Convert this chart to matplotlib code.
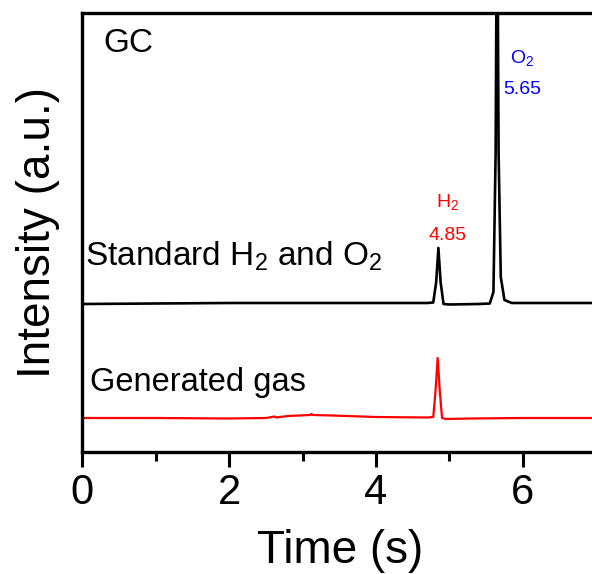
import numpy as np
import matplotlib
matplotlib.use("Agg")
import matplotlib.pyplot as plt
from matplotlib.ticker import MultipleLocator

plt.rcParams['font.family'] = ['Liberation Sans', 'DejaVu Sans']
plt.rcParams['mathtext.fontset'] = 'custom'
plt.rcParams['mathtext.rm'] = 'Liberation Sans'
plt.rcParams['mathtext.it'] = 'Liberation Sans'

# standard H2 / O2 trace
t_std = [0, 1, 2, 3, 4, 4.7, 4.78, 4.82, 4.85, 4.88, 4.92, 5.0, 5.4, 5.55,
         5.6, 5.63, 5.65, 5.67, 5.70, 5.75, 5.85, 6.2, 7.4]
i_std = [148, 148.5, 149, 149, 149, 149, 149.5, 170, 204, 170, 148, 147.5, 148, 148.5,
         160, 300, 600, 300, 175, 152, 149, 149, 149]

# generated gas trace
t_gen = [0, 1, 2, 2.5, 2.62, 2.64, 2.8, 3.1, 3.12, 3.14, 3.4, 4, 4.7, 4.78,
         4.81, 4.84, 4.87, 4.9, 4.95, 5.3, 6, 7.4]
i_gen = [34, 34, 33.5, 34, 35.5, 34.5, 36, 37, 38, 37, 36.5, 35, 34.5, 35,
         60, 94, 60, 34, 33, 33.5, 34, 34]

xticks = [0, 2, 4, 6]

fig = plt.figure(figsize=(5.92, 5.74), dpi=100)
ax = fig.add_axes([82.4/592, 122/574, 7.3*73.4/592, 439/574])

ax.plot(t_std, i_std, color='black', lw=1.9)
ax.plot(t_gen, i_gen, color='red', lw=1.6)

ax.set_xlim(0, 7.3)
ax.set_ylim(0, 439)
ax.set_xticks(xticks)
ax.xaxis.set_minor_locator(MultipleLocator(1))
ax.set_yticks([])
ax.tick_params(axis='x', which='major', direction='out', length=11, width=2.2,
               labelsize=30, pad=4)
ax.tick_params(axis='x', which='minor', direction='out', length=6.5, width=2.2)
for s in ax.spines.values():
    s.set_linewidth(2.4)

ax.set_xlabel('Time (s)', fontsize=33)
ax.xaxis.set_label_coords(0.481, -0.175)
ax.set_ylabel('Intensity (a.u.)', fontsize=33, labelpad=16)

ax.text(0.29, 408, 'GC', fontsize=24, va='center', ha='left')
ax.text(0.03, 196, 'Standard H$_2$ and O$_2$', fontsize=24, va='center', ha='left')
ax.text(0.10, 70, 'Generated gas', fontsize=23.5, va='center', ha='left')

ax.text(4.98, 250, 'H$_2$', fontsize=14, color='red', ha='center', va='center')
ax.text(4.98, 217, '4.85', fontsize=14, color='red', ha='center', va='center')
ax.text(5.99, 394, 'O$_2$', fontsize=14, color='blue', ha='center', va='center')
ax.text(5.99, 362, '5.65', fontsize=14, color='blue', ha='center', va='center')

fig.savefig('out.png', dpi=100)
